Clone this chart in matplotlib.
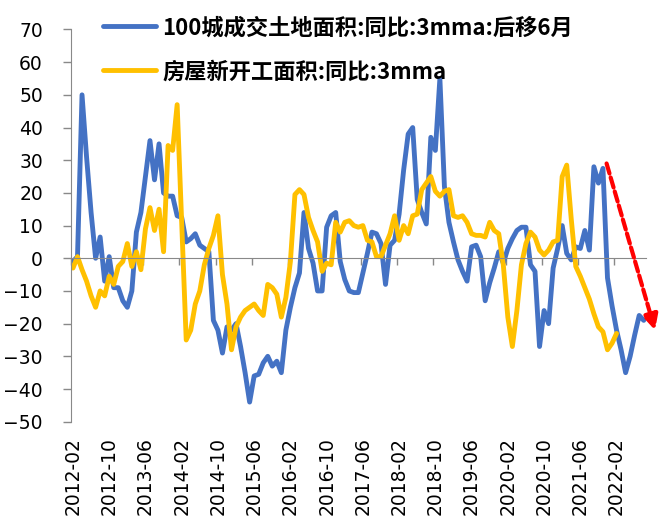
import matplotlib
matplotlib.use('Agg')
import matplotlib.pyplot as plt
import numpy as np
import pandas as pd

# monthly, 2012-02 onwards
land_yoy = [-1, 0.5, 50, 31, 14, 0, 6.5, -7, 0.5, -9, -9, -13, -15, -10, 8, 14, 25, 36, 24, 35,
            20, 19, 19, 13, 12.5, 5, 6, 7.5, 4, 3, 2, -19, -22, -29, -21, -22, -20, -27, -35, -44,
            -36, -35.5, -32, -30, -33, -31.5, -35, -22, -15, -9, -4.5, 14, 3, -1.5, -10, -10, 9.5, 13, 14, -1,
            -6.5, -10, -10.5, -10.5, -4.5, 1.5, 8, 7.5, 4.5, -8, 4, 5.5, 13.5, 27, 38, 40, 18, 14, 10.5, 37,
            33, 55, 22, 11, 5, -0.5, -4, -7, 3.5, 4, 0.5, -13, -7.5, -3, 2, -1.5, 3, 6, 8.5, 9.5,
            9.5, -2, -4, -27, -16, -20, -3, 3, 10, 1.5, -0.5, 3.5, 3, 8.5, 2.5, 28, 23, 27.5, -6, -14.5,
            -22, -28, -35, -30, -23.5, -17.5, -19]
starts_yoy = [-3, 0.5, -3.5, -7, -11.5, -15, -10, -11.5, -5.5, -8, -2.5, -1, 4.5, -2.5, 2, -3.5, 9, 15.5, 8.5, 15,
              2, 34.5, 33, 47, 11, -25, -22, -14, -10, -2, 3, 7, 13, -5, -14, -28, -21, -18, -16, -15,
              -14, -16, -17.5, -8, -9, -11, -18, -12, -1, 19.5, 21, 19.5, 12.5, 8.5, 5, -4, -1.5, -2, 11, 8,
              11, 11.5, 10, 9.5, 10, 5.5, 5, 0.5, 0.5, 4, 7.5, 13, 5.5, 10, 7.5, 13, 13.5, 21, 23, 25,
              20.5, 19, 20.5, 21, 13, 12.5, 13, 11, 7.5, 7, 7, 6.5, 11, 8.5, 7.5, -2, -18, -27, -16, -2,
              4.5, 8, 6.5, 2.5, 1, 2.5, 5, 5.5, 25, 28.5, 12, -2.5, -5.5, -9, -12.5, -17, -21, -22.5, -28, -26,
              -23]
months = pd.period_range('2012-02', periods=len(land_yoy), freq='M').strftime('%Y-%m')
yticks = np.arange(-50, 71, 10)

# red trend arrow (data coords: month index, value)
arrow_from = (117.8, 29)
arrow_to = (128.5, -22)

legend_font = ['Noto Sans CJK SC', 'DejaVu Sans']

fig = plt.figure(figsize=(6.67, 5.19), dpi=100)
ax = fig.add_axes([0.106, 0.1875, 0.8625, 0.7557])

x1 = np.arange(len(land_yoy))
x2 = np.arange(len(starts_yoy))
l1, = ax.plot(x1, land_yoy, color='#4472C4', lw=3.5, solid_joinstyle='round', solid_capstyle='round')
l2, = ax.plot(x2, starts_yoy, color='#FFC000', lw=3.5, solid_joinstyle='round', solid_capstyle='round')

ax.set_xlim(-0.5, len(land_yoy) - 0.5)
ax.set_ylim(-50, 70)
ax.set_yticks(yticks)
ax.tick_params(axis='y', labelsize=13.5, length=6, width=1, color='#898989', pad=14)

for s in ['top', 'right']:
  ax.spines[s].set_visible(False)
ax.spines['left'].set_color('#898989')
ax.spines['bottom'].set_color('#898989')
ax.spines['bottom'].set_position(('data', 0))
ax.set_xticks(np.arange(-0.5, len(land_yoy), 8))
ax.set_xticklabels([])
ax.tick_params(axis='x', length=5, width=1, color='#898989', direction='out')

sec = ax.secondary_xaxis(0.0)
sec.set_xticks(np.arange(0, len(months), 8))
sec.set_xticklabels(months[::8], rotation=90)
sec.tick_params(length=0, labelsize=13.5, pad=11)
sec.spines['bottom'].set_visible(False)

ax.annotate('', xy=arrow_to, xytext=arrow_from, annotation_clip=False,
            arrowprops=dict(arrowstyle='-|>,head_length=0.9,head_width=0.45', color='red',
                            lw=3, ls=(0, (2.5, 1)), shrinkA=0, shrinkB=0))

fig.legend([l1, l2], ['100城成交土地面积:同比:3mma:后移6月', '房屋新开工面积:同比:3mma'],
           loc='upper left', bbox_to_anchor=(92 / 667, 1 - 5 / 519), frameon=False,
           prop={'family': legend_font, 'weight': 'bold', 'size': 16},
           borderpad=0, handlelength=2.4, handletextpad=0.25, labelspacing=0.95)

fig.savefig('out.png', dpi=100)
